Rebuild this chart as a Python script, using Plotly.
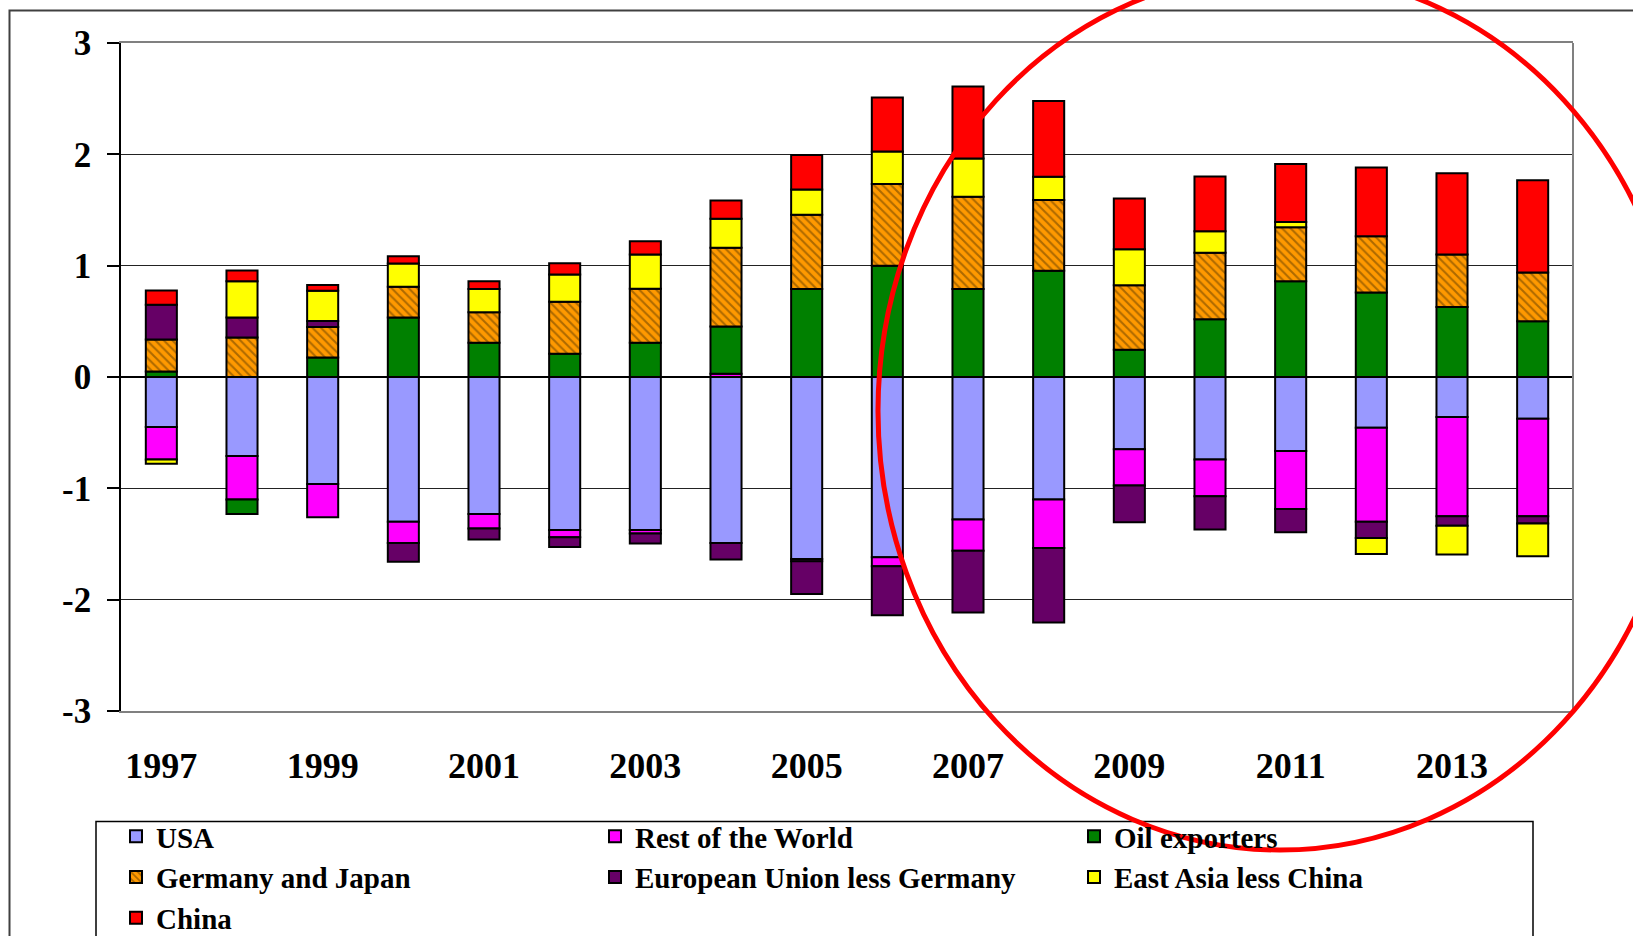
import plotly.graph_objects as go

# Global imbalances, % of world GDP, 1997-2014
years = [str(y) for y in range(1997, 2015)]
tick_years = [str(y) for y in range(1997, 2015, 2)]
y_ticks = [-3, -2, -1, 0, 1, 2, 3]
y_tick_labels = ["-3", "-2", "-1", "0", "1", "2", "3"]

usa = [-0.45, -0.71, -0.96, -1.30, -1.23, -1.375, -1.375, -1.49, -1.635,
       -1.62, -1.28, -1.10, -0.65, -0.74, -0.665, -0.455, -0.36, -0.375]
rest_of_world = [-0.29, -0.39, -0.30, -0.19, -0.13, -0.065, -0.03, 0.03, -0.02,
                 -0.08, -0.28, -0.435, -0.325, -0.33, -0.52, -0.845, -0.89, -0.875]
oil_exporters = [0.05, -0.13, 0.176, 0.534, 0.307, 0.208, 0.307, 0.423, 0.79,
                 1.0, 0.79, 0.954, 0.244, 0.519, 0.859, 0.76, 0.629, 0.501]
germany_japan = [0.286, 0.355, 0.274, 0.277, 0.274, 0.469, 0.486, 0.707, 0.668,
                 0.733, 0.829, 0.635, 0.579, 0.596, 0.485, 0.504, 0.471, 0.438]
eu_less_germany = [0.313, 0.179, 0.054, -0.17, -0.10, -0.087, -0.09, -0.15, -0.293,
                   -0.441, -0.555, -0.671, -0.33, -0.30, -0.21, -0.145, -0.085, -0.065]
east_asia_less_china = [-0.04, 0.325, 0.271, 0.209, 0.209, 0.244, 0.307, 0.262, 0.226,
                        0.293, 0.343, 0.209, 0.325, 0.194, 0.049, -0.145, -0.26, -0.295]
china = [0.128, 0.098, 0.051, 0.065, 0.069, 0.101, 0.119, 0.164, 0.311,
         0.485, 0.647, 0.682, 0.456, 0.492, 0.521, 0.617, 0.731, 0.829]

series = [
    ("USA", usa, "#9999FF"),
    ("Rest of the World", rest_of_world, "#FF00FF"),
    ("Oil exporters", oil_exporters, "#008000"),
    ("Germany and Japan", germany_japan, "#FF9900"),
    ("European Union less Germany", eu_less_germany, "#660066"),
    ("East Asia less China", east_asia_less_china, "#FFFF00"),
    ("China", china, "#FF0000"),
]

W, H = 1633, 936
L, R, T, B = 121, 1573, 43, 711  # plot area in pixels

def px_x(p):
    return (p - L) / (R - L)

def px_y(p):
    return (B - p) / (B - T)

FONT = "Liberation Serif, Times New Roman, serif"

fig = go.Figure()
for name, vals, color in series:
    marker = dict(color=color, line=dict(color="black", width=2))
    if name == "Germany and Japan":
        marker["pattern"] = dict(shape="\\", fgcolor="#5c3a00", bgcolor=color,
                                 size=6, solidity=0.35)
    fig.add_trace(go.Bar(x=years, y=vals, name=name, marker=marker))

fig.update_layout(
    width=W, height=H,
    barmode="relative",
    bargap=0.615,
    plot_bgcolor="white",
    paper_bgcolor="white",
    margin=dict(l=L, r=W - R, t=T, b=H - B, autoexpand=False),
    font=dict(family=FONT, color="black"),
    legend=dict(
        orientation="h",
        x=px_x(116), y=px_y(811), xanchor="left", yanchor="top",
        entrywidth=434, entrywidthmode="pixels",
        font=dict(family=FONT, size=29, color="black", weight="bold"),
        bgcolor="rgba(0,0,0,0)", borderwidth=0,
        traceorder="normal",
        tracegroupgap=0,
    ),
    showlegend=True,
)

fig.update_xaxes(
    type="category",
    tickmode="array", tickvals=tick_years, ticktext=tick_years,
    ticks="", ticklabelstandoff=22,
    tickfont=dict(family=FONT, size=36, color="black", weight="bold"),
    showline=True, linecolor="#808080", linewidth=2, mirror=True,
    showgrid=False,
)
fig.update_yaxes(
    range=[-3, 3], tickmode="array", tickvals=y_ticks, ticktext=y_tick_labels,
    ticks="outside", ticklen=12, tickcolor="black", tickwidth=1.5,
    ticklabelstandoff=9,
    tickfont=dict(family=FONT, size=35, color="black", weight="bold"),
    showline=True, linecolor="black", linewidth=1.5,
    showgrid=True, gridcolor="#222222", gridwidth=1.3,
    zeroline=True, zerolinecolor="black", zerolinewidth=1.5,
)

shapes = [
    # right border of the plot area
    dict(type="line", xref="paper", yref="paper", x0=1, x1=1, y0=0, y1=1,
         line=dict(color="#808080", width=2)),
    # outer chart frame
    dict(type="rect", xref="paper", yref="paper",
         x0=px_x(9.5), x1=px_x(1700), y0=px_y(1000), y1=px_y(10.5),
         line=dict(color="#404040", width=2), fillcolor="rgba(0,0,0,0)", layer="below"),
    # legend box
    dict(type="rect", xref="paper", yref="paper",
         x0=px_x(96), x1=px_x(1533), y0=px_y(1000), y1=px_y(821.5),
         line=dict(color="black", width=1.5), fillcolor="rgba(0,0,0,0)"),
    # highlight ellipse around the post-2008 years
    dict(type="circle", xref="paper", yref="paper",
         x0=px_x(878), x1=px_x(1682), y0=px_y(850), y1=px_y(-28),
         line=dict(color="#FF0000", width=5), fillcolor="rgba(0,0,0,0)", layer="above"),
]
fig.update_layout(shapes=shapes)

fig.write_html("out.html")
